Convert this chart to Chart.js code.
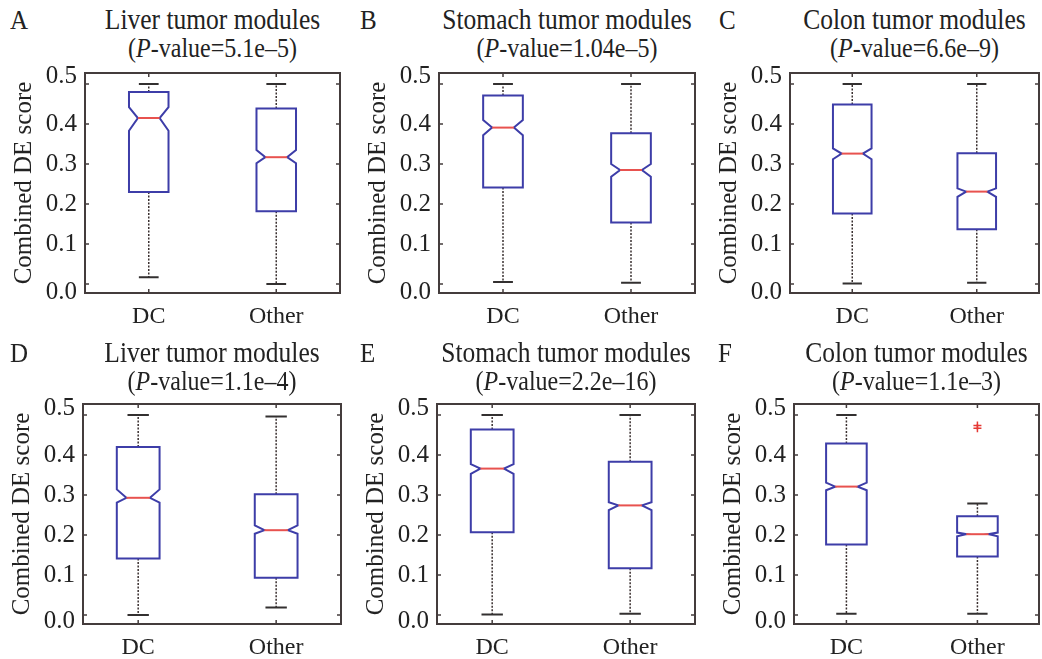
<!DOCTYPE html>
<html>
<head>
<meta charset="utf-8">
<script src="https://cdn.jsdelivr.net/npm/chart.js@4.4.1/dist/chart.umd.min.js"></script>
<style>
  html, body { margin: 0; padding: 0; background: #ffffff; }
  body { width: 1042px; height: 659px; position: relative; overflow: hidden;
         font-family: "Liberation Serif", "Times New Roman", serif; color: #222; }
  .letter { position: absolute; font-size: 25px; line-height: 29px; transform: scaleY(1.12); transform-origin: 50% 50%; }
  .title { position: absolute; line-height: 29px; text-align: center; white-space: nowrap; }
  .t1 { font-size: 25.5px; transform: scaleY(1.12); transform-origin: 50% 50%; }
  .t2 { font-size: 24px; transform: scaleY(1.1); transform-origin: 50% 50%; }
  canvas { position: absolute; }
</style>
</head>
<body>
<script>
// ---------------- data ----------------
const categories  = ['DC', 'Other'];
const panelLetters = ['A', 'B', 'C', 'D', 'E', 'F'];
const panelTitles = ['Liver tumor modules', 'Stomach tumor modules', 'Colon tumor modules',
                     'Liver tumor modules', 'Stomach tumor modules', 'Colon tumor modules'];
const pValues     = ['5.1e\u20135', '1.04e\u20135', '6.6e\u20139', '1.1e\u20134', '2.2e\u201316', '1.1e\u20133'];
const yTickValues = [0.0, 0.1, 0.2, 0.3, 0.4, 0.5];
const yAxisTitle  = 'Combined DE score';

// each entry: [DC, Other]
const whiskerLow  = [[0.017, 0.000], [0.005, 0.003], [0.001, 0.003], [0.000, 0.019], [0.001, 0.003], [0.003, 0.003]];
const boxLow      = [[0.230, 0.182], [0.241, 0.154], [0.176, 0.137], [0.141, 0.093], [0.207, 0.117], [0.176, 0.146]];
const notchLow    = [[0.383, 0.302], [0.372, 0.268], [0.312, 0.218], [0.281, 0.203], [0.353, 0.262], [0.312, 0.197]];
const medians     = [[0.415, 0.317], [0.391, 0.285], [0.326, 0.231], [0.293, 0.212], [0.366, 0.274], [0.321, 0.202]];
const notchHigh   = [[0.442, 0.335], [0.410, 0.300], [0.339, 0.239], [0.314, 0.224], [0.377, 0.282], [0.331, 0.206]];
const boxHigh     = [[0.480, 0.439], [0.471, 0.377], [0.449, 0.327], [0.420, 0.302], [0.464, 0.383], [0.429, 0.247]];
const whiskerHigh = [[0.500, 0.500], [0.500, 0.500], [0.500, 0.500], [0.500, 0.496], [0.500, 0.500], [0.500, 0.279]];
const outliers    = [[[], []], [[], []], [[], []], [[], []], [[], []], [[], [0.474, 0.467]]];

// ---------------- layout / style ----------------
const FONT = '"Liberation Serif", "Times New Roman", serif';
const TEXT_COLOR = '#222222';
const FRAME_COLOR = '#443c3c';
const BOX_COLOR = '#3d3da8';
const MEDIAN_COLOR = '#e8524f';
const WHISKER_COLOR = '#3a3030';
const BOX_WIDTH = 0.31;      // in x units
const NOTCH_INDENT = 0.45;   // fraction of half width
const Y_AXIS_W = 85, PAD_TOP = 12, PAD_RIGHT = 6, X_AXIS_H = 44, PLOT_H = 220;

const frames = [
  { l: 85,  r: 340,  t: 73,  xmin: 0.5, xmax: 2.5, letterX: 10 },
  { l: 439, r: 695,  t: 73,  xmin: 0.5, xmax: 2.5, letterX: 360 },
  { l: 790, r: 1039, t: 73,  xmin: 0.5, xmax: 2.5, letterX: 719 },
  { l: 83,  r: 341,  t: 404, xmin: 0.6, xmax: 2.47, letterX: 10 },
  { l: 437, r: 695,  t: 404, xmin: 0.6, xmax: 2.47, letterX: 360 },
  { l: 794, r: 1039, t: 404, xmin: 0.6, xmax: 2.47, letterX: 718 }
];
const titleTops = [5, 5, 5, 338, 338, 338];

const boxPlugin = {
  id: 'notchedBox',
  beforeDatasetsDraw(chart) {
    const p = chart.options.plugins.notchedBox.panel;
    const xs = chart.scales.x, ys = chart.scales.y, ctx = chart.ctx;
    ctx.save();
    for (let i = 0; i < categories.length; i++) {
      const cx = xs.getPixelForValue(i + 1);
      const half = (xs.getPixelForValue(i + 1 + BOX_WIDTH / 2) - xs.getPixelForValue(i + 1 - BOX_WIDTH / 2)) / 2;
      const left = cx - half, right = cx + half, indent = half * NOTCH_INDENT;
      const yWL = ys.getPixelForValue(whiskerLow[p][i]);
      const yQ1 = ys.getPixelForValue(boxLow[p][i]);
      const yNL = ys.getPixelForValue(notchLow[p][i]);
      const yM  = ys.getPixelForValue(medians[p][i]);
      const yNH = ys.getPixelForValue(notchHigh[p][i]);
      const yQ3 = ys.getPixelForValue(boxHigh[p][i]);
      const yWH = ys.getPixelForValue(whiskerHigh[p][i]);
      ctx.strokeStyle = WHISKER_COLOR;
      ctx.lineWidth = 1.5;
      ctx.setLineDash([2, 1.5]);
      ctx.beginPath();
      ctx.moveTo(cx, yQ3); ctx.lineTo(cx, yWH);
      ctx.moveTo(cx, yQ1); ctx.lineTo(cx, yWL);
      ctx.stroke();
      ctx.setLineDash([]);
      ctx.lineWidth = 2;
      ctx.strokeStyle = '#333030';
      ctx.beginPath();
      ctx.moveTo(cx - half / 2, yWH); ctx.lineTo(cx + half / 2, yWH);
      ctx.moveTo(cx - half / 2, yWL); ctx.lineTo(cx + half / 2, yWL);
      ctx.stroke();
      ctx.strokeStyle = BOX_COLOR;
      ctx.lineWidth = 2;
      ctx.lineJoin = 'miter';
      ctx.beginPath();
      ctx.moveTo(left, yQ3);
      ctx.lineTo(right, yQ3);
      ctx.lineTo(right, yNH);
      ctx.lineTo(right - indent, yM);
      ctx.lineTo(right, yNL);
      ctx.lineTo(right, yQ1);
      ctx.lineTo(left, yQ1);
      ctx.lineTo(left, yNL);
      ctx.lineTo(left + indent, yM);
      ctx.lineTo(left, yNH);
      ctx.closePath();
      ctx.stroke();
      ctx.strokeStyle = MEDIAN_COLOR;
      ctx.lineWidth = 2;
      ctx.beginPath();
      ctx.moveTo(left + indent, yM); ctx.lineTo(right - indent, yM);
      ctx.stroke();
    }
    ctx.restore();
  },
  afterDraw(chart) {
    const xs = chart.scales.x, ys = chart.scales.y, ctx = chart.ctx;
    const a = chart.chartArea;
    ctx.save();
    ctx.strokeStyle = FRAME_COLOR;
    ctx.lineWidth = 2;
    ctx.strokeRect(a.left, a.top, a.right - a.left, a.bottom - a.top);
    ctx.lineWidth = 1.5;
    ctx.beginPath();
    yTickValues.forEach(v => {
      const y = ys.getPixelForValue(v);
      ctx.moveTo(a.left, y); ctx.lineTo(a.left + 4, y);
      ctx.moveTo(a.right, y); ctx.lineTo(a.right - 4, y);
    });
    categories.forEach((c, i) => {
      const x = xs.getPixelForValue(i + 1);
      ctx.moveTo(x, a.bottom); ctx.lineTo(x, a.bottom - 4);
      ctx.moveTo(x, a.top); ctx.lineTo(x, a.top + 4);
    });
    ctx.stroke();
    ctx.restore();
  }
};

// end labels of the y axis sit a little outside their tick marks in the reference
const yEnd = (v) => Math.abs(v) < 1e-9 || Math.abs(v - 0.5) < 1e-9;

frames.forEach((f, p) => {
  const letter = document.createElement('div');
  letter.className = 'letter';
  letter.style.left = f.letterX + 'px';
  letter.style.top = titleTops[p] + 'px';
  letter.textContent = panelLetters[p];
  document.body.appendChild(letter);

  const title = document.createElement('div');
  title.className = 'title';
  const cxTitle = (f.l + f.r) / 2;
  title.style.left = (cxTitle - 150) + 'px';
  title.style.width = '300px';
  title.style.top = titleTops[p] + 'px';
  title.innerHTML = '<div class="t1">' + panelTitles[p] + '</div><div class="t2">(<i>P</i>-value=' + pValues[p] + ')</div>';
  document.body.appendChild(title);

  const canvas = document.createElement('canvas');
  const w = (f.r - f.l) + Y_AXIS_W + PAD_RIGHT;
  const h = PLOT_H + PAD_TOP + X_AXIS_H;
  canvas.width = w; canvas.height = h;
  canvas.style.left = (f.l - Y_AXIS_W) + 'px';
  canvas.style.top = (f.t - PAD_TOP) + 'px';
  canvas.style.width = w + 'px'; canvas.style.height = h + 'px';
  document.body.appendChild(canvas);

  const outlierData = [];
  outliers[p].forEach((arr, i) => arr.forEach(v => outlierData.push({ x: i + 1, y: v })));

  new Chart(canvas, {
    type: 'scatter',
    data: {
      datasets: [{
        label: 'Outliers',
        data: outlierData,
        pointStyle: 'cross',
        radius: 4,
        borderColor: '#e53935',
        backgroundColor: '#e53935',
        borderWidth: 1.5
      }]
    },
    options: {
      responsive: false,
      animation: false,
      devicePixelRatio: 1,
      layout: { padding: { left: 0, top: PAD_TOP, right: PAD_RIGHT, bottom: 0 } },
      plugins: {
        legend: { display: false },
        tooltip: { enabled: false },
        notchedBox: { panel: p }
      },
      scales: {
        x: {
          type: 'linear',
          min: f.xmin, max: f.xmax,
          grid: { display: false, drawTicks: false },
          border: { display: false },
          afterBuildTicks: (s) => { s.ticks = categories.map((c, i) => ({ value: i + 1 })); },
          afterFit: (s) => { s.height = X_AXIS_H; s.paddingLeft = 0; s.paddingRight = 0; },
          ticks: {
            padding: 9,
            color: TEXT_COLOR,
            font: { family: FONT, size: 24 },
            maxRotation: 0,
            autoSkip: false,
            callback: (v) => categories[Math.round(v) - 1]
          }
        },
        y: {
          type: 'linear',
          min: -0.0225, max: 0.5275,
          grid: { display: false, drawTicks: false },
          border: { display: false },
          afterBuildTicks: (s) => { s.ticks = yTickValues.map(v => ({ value: v })); },
          afterFit: (s) => { s.width = Y_AXIS_W; s.paddingTop = 0; s.paddingBottom = 0; },
          ticks: {
            padding: 8,
            color: TEXT_COLOR,
            font: (c) => ({ family: FONT, size: 25,
                            lineHeight: (c.tick && yEnd(c.tick.value)) ? (p < 3 ? '16px' : '13px') : 1.2 }),
            autoSkip: false,
            callback: (v) => {
              const s = Number(v).toFixed(1);
              if (Math.abs(v - 0.5) < 1e-9) return [s, ''];
              if (Math.abs(v) < 1e-9) return ['', s];
              return s;
            }
          },
          title: {
            display: true,
            text: yAxisTitle,
            color: TEXT_COLOR,
            font: { family: FONT, size: 25, lineHeight: 1 },
            padding: { top: 12, bottom: 0 }
          }
        }
      }
    },
    plugins: [boxPlugin]
  });
});
</script>
</body>
</html>
